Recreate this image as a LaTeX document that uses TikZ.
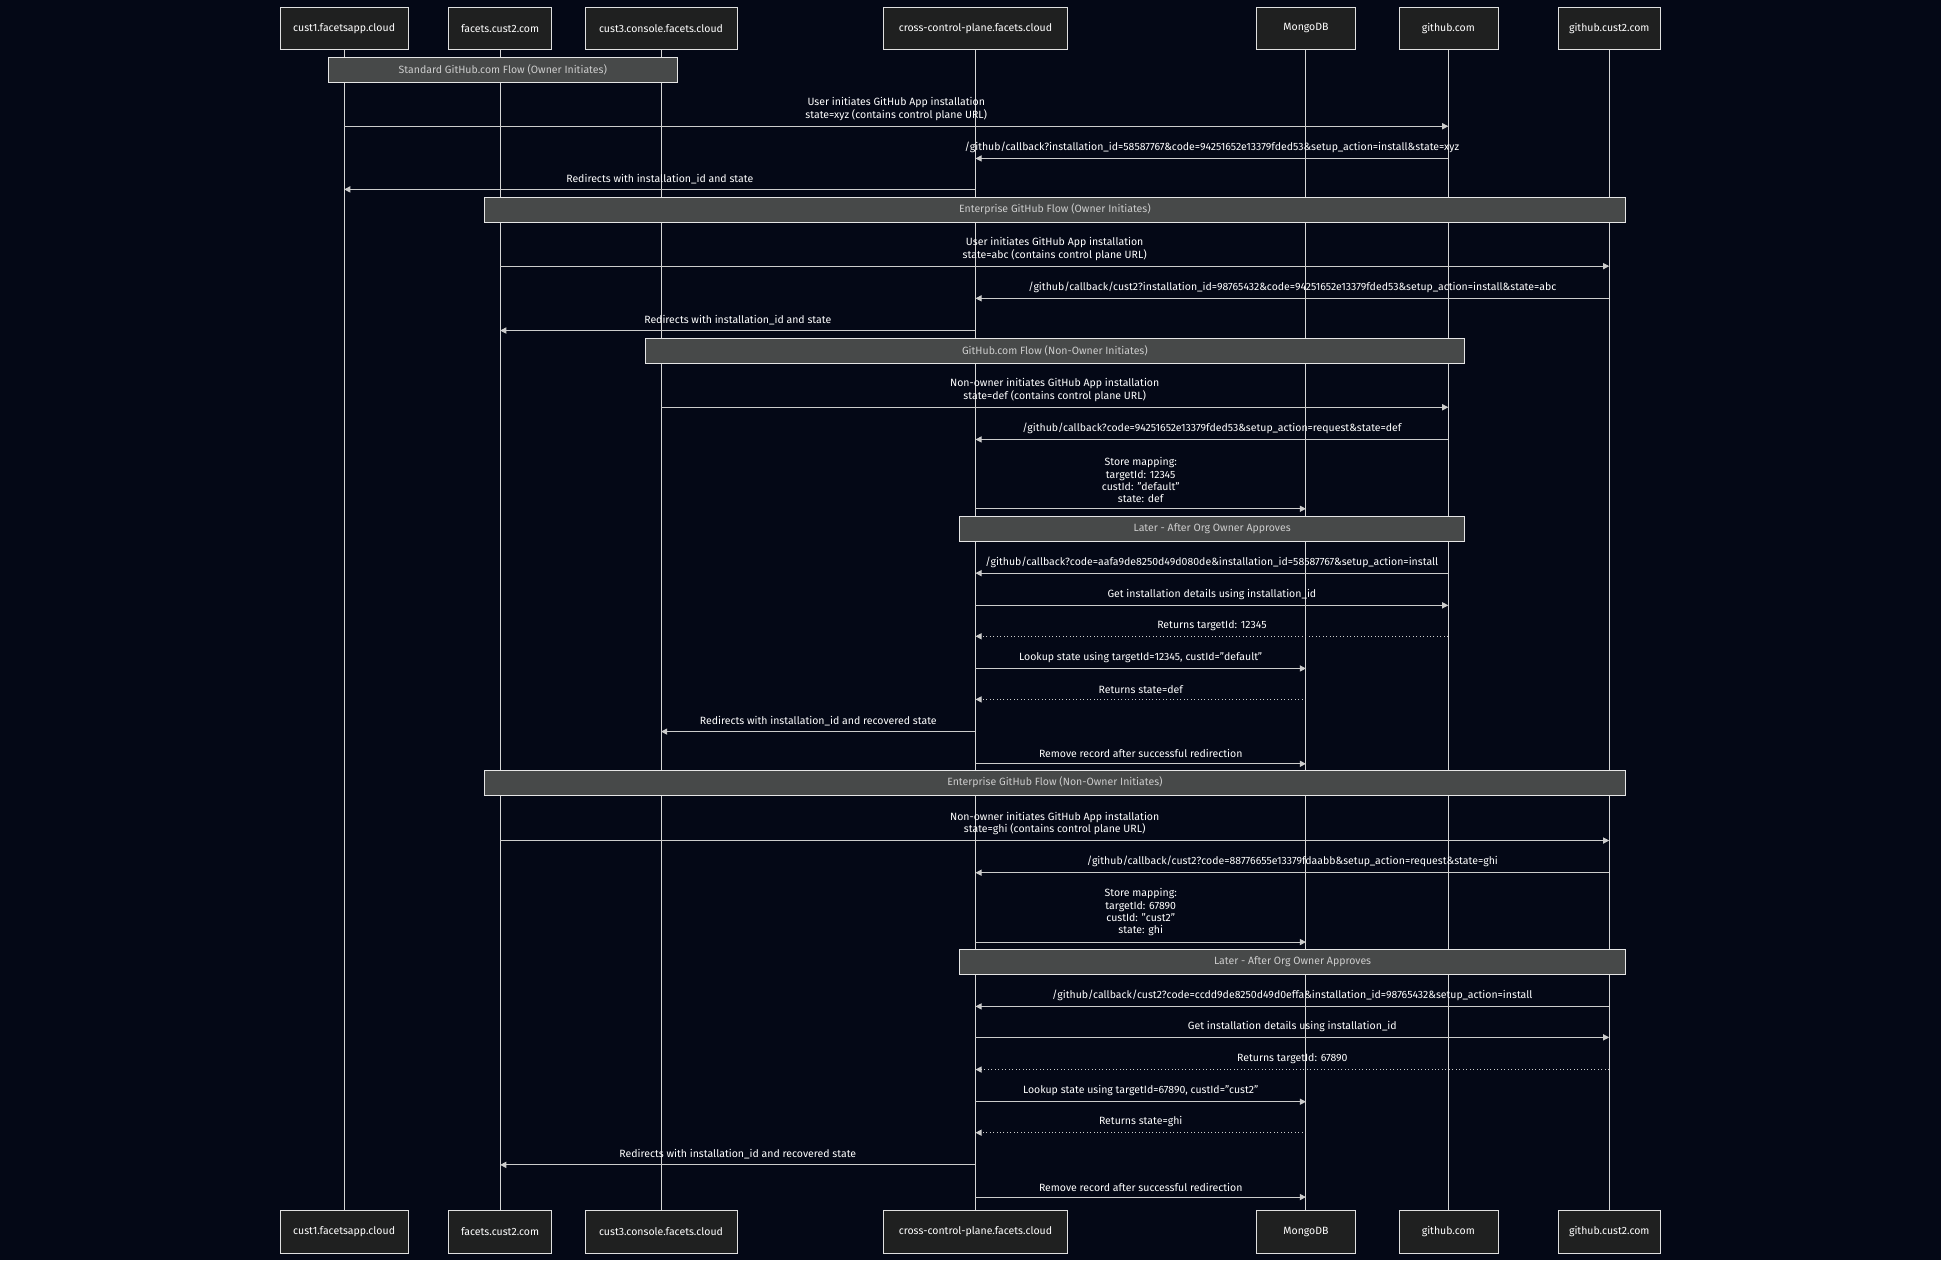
\documentclass[tikz,border=0pt]{standalone}
\usepackage{fontspec}
\setmainfont{Fira Sans}
\usetikzlibrary{arrows.meta}
\usetikzlibrary{calc}
\definecolor{bgc}{HTML}{040816}
\definecolor{boxc}{HTML}{1F2020}
\definecolor{notec}{HTML}{474949}
\definecolor{linec}{HTML}{CCCCCC}
\tikzset{
  actor/.style={draw=linec!60, fill=boxc, text=white, minimum height=34pt, inner sep=0pt, font=\fontsize{8.5}{10}\selectfont},
  lifeline/.style={draw=linec!80, line width=0.8pt},
  msg/.style={draw=linec, line width=0.8pt, -{Triangle[length=5pt,width=5pt]}},
  reply/.style={msg, dotted},
  lbl/.style={text=white, align=center, font=\fontsize{8.5}{10}\selectfont, inner sep=1pt},
  notebox/.style={draw=linec!50, fill=notec, text=linec, font=\fontsize{8.5}{10}\selectfont, inner sep=0pt}
}
% message: y, from, to, style, label
\newcommand{\sqmsg}[5]{%
  \coordinate (ms) at (#2top |- 0,#1);
  \coordinate (me) at (#3top |- 0,#1);
  \draw[#4] (ms) -- (me);
  \node[lbl, anchor=south] at ($(ms)!0.5!(me)+(0,-3.5)$) {#5};
}
\newcommand{\sqnote}[4]{%
  \node[notebox, minimum width={#3-#2}, minimum height=20pt, anchor=north west] at (#2,#1) {#4};
}
\begin{document}
\begin{tikzpicture}[x=1pt,y=-1pt]
\fill[bgc] (0,0) rectangle (1568,1018);
\useasboundingbox (0,0) rectangle (1568,1018);
% participants
\foreach \nm/\xx/\ww/\txt in {cust1/278/103/cust1.facetsapp.cloud, facets/404/83/facets.cust2.com,
  cust3/534/123/cust3.console.facets.cloud, cross/788/149/cross-control-plane.facets.cloud,
  mongo/1055/80/MongoDB, gh/1170/80/github.com, ghc/1300/83/github.cust2.com}{
  \node[actor, minimum width=\ww pt] (\nm top) at (\xx,23) {\txt};
  \node[actor, minimum width=\ww pt] (\nm bot) at (\xx,995) {\txt};
  \draw[lifeline] (\nm top) -- (\nm bot);
}
% notes
\sqnote{46}{265}{547}{Standard GitHub.com Flow (Owner Initiates)}
\sqnote{159}{391}{1313}{Enterprise GitHub Flow (Owner Initiates)}
\sqnote{273}{521}{1183}{GitHub.com Flow (Non-Owner Initiates)}
\sqnote{417}{775}{1183}{Later - After Org Owner Approves}
\sqnote{622}{391}{1313}{Enterprise GitHub Flow (Non-Owner Initiates)}
\sqnote{767}{775}{1313}{Later - After Org Owner Approves}
% standard flow
\sqmsg{102}{cust1}{gh}{msg}{User initiates GitHub App installation\\state=xyz (contains control plane URL)}
\sqmsg{128}{gh}{cross}{msg}{/github/callback?installation\_id=58587767\&code=94251652e13379fded53\&setup\_action=install\&state=xyz}
\sqmsg{153}{cross}{cust1}{msg}{Redirects with installation\_id and state}
% enterprise owner
\sqmsg{215}{facets}{ghc}{msg}{User initiates GitHub App installation\\state=abc (contains control plane URL)}
\sqmsg{241}{ghc}{cross}{msg}{/github/callback/cust2?installation\_id=98765432\&code=94251652e13379fded53\&setup\_action=install\&state=abc}
\sqmsg{267}{cross}{facets}{msg}{Redirects with installation\_id and state}
% github.com non-owner
\sqmsg{329}{cust3}{gh}{msg}{Non-owner initiates GitHub App installation\\state=def (contains control plane URL)}
\sqmsg{355}{gh}{cross}{msg}{/github/callback?code=94251652e13379fded53\&setup\_action=request\&state=def}
\sqmsg{411}{cross}{mongo}{msg}{Store mapping:\\targetId: 12345\\custId: "default"\\state: def}
\sqmsg{463}{gh}{cross}{msg}{/github/callback?code=aafa9de8250d49d080de\&installation\_id=58587767\&setup\_action=install}
\sqmsg{489}{cross}{gh}{msg}{Get installation details using installation\_id}
\sqmsg{514}{gh}{cross}{reply}{Returns targetId: 12345}
\sqmsg{540}{cross}{mongo}{msg}{Lookup state using targetId=12345, custId="default"}
\sqmsg{565}{mongo}{cross}{reply}{Returns state=def}
\sqmsg{591}{cross}{cust3}{msg}{Redirects with installation\_id and recovered state}
\sqmsg{617}{cross}{mongo}{msg}{Remove record after successful redirection}
% enterprise non-owner
\sqmsg{679}{facets}{ghc}{msg}{Non-owner initiates GitHub App installation\\state=ghi (contains control plane URL)}
\sqmsg{705}{ghc}{cross}{msg}{/github/callback/cust2?code=88776655e13379fdaabb\&setup\_action=request\&state=ghi}
\sqmsg{761}{cross}{mongo}{msg}{Store mapping:\\targetId: 67890\\custId: "cust2"\\state: ghi}
\sqmsg{813}{ghc}{cross}{msg}{/github/callback/cust2?code=ccdd9de8250d49d0effa\&installation\_id=98765432\&setup\_action=install}
\sqmsg{838}{cross}{ghc}{msg}{Get installation details using installation\_id}
\sqmsg{864}{ghc}{cross}{reply}{Returns targetId: 67890}
\sqmsg{890}{cross}{mongo}{msg}{Lookup state using targetId=67890, custId="cust2"}
\sqmsg{915}{mongo}{cross}{reply}{Returns state=ghi}
\sqmsg{941}{cross}{facets}{msg}{Redirects with installation\_id and recovered state}
\sqmsg{967}{cross}{mongo}{msg}{Remove record after successful redirection}
\end{tikzpicture}
\end{document}
